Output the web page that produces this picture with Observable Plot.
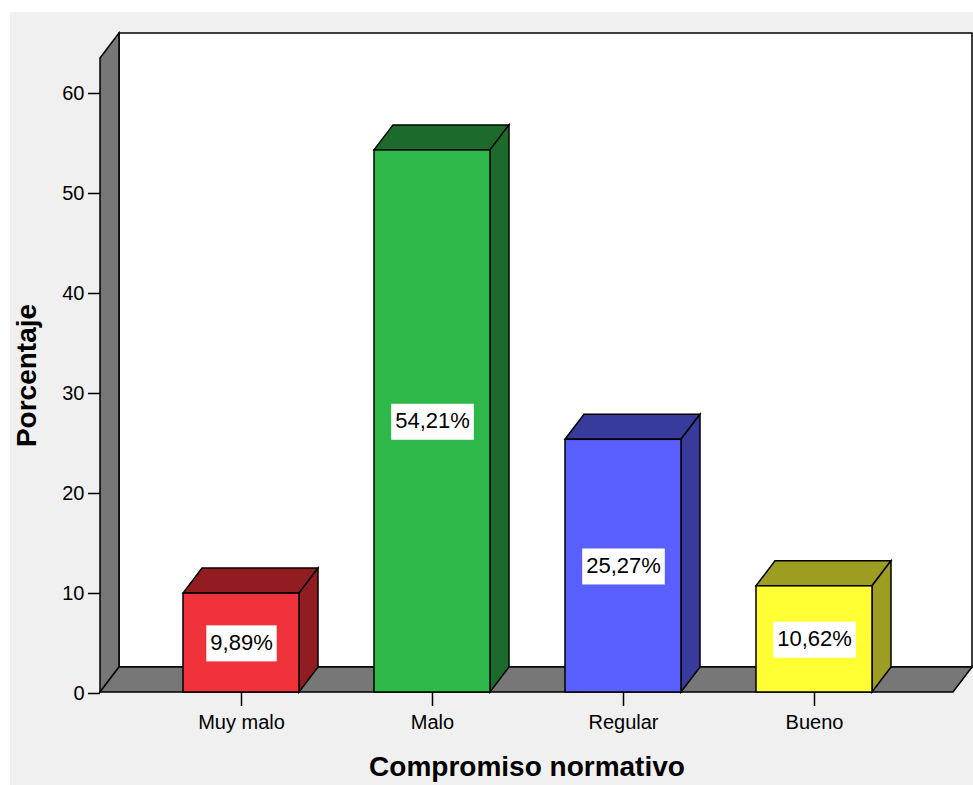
<!DOCTYPE html>
<html>
<head>
<meta charset="utf-8">
<script src="https://cdn.jsdelivr.net/npm/d3@7"></script>
<script src="https://cdn.jsdelivr.net/npm/@observablehq/plot@0.6"></script>
<style>
  html, body { margin: 0; padding: 0; background: #ffffff; }
  #chart { position: relative; width: 973px; height: 785px; overflow: hidden; }
  #panel { position: absolute; left: 10px; top: 12px; right: 0; bottom: 0; background: #f0f0f0; }
  #chart svg { position: absolute; left: 0; top: 0; }
</style>
</head>
<body>
<div id="chart"><div id="panel"></div></div>
<script>
// Compromiso normativo: distribución porcentual por nivel
const categories = ["Muy malo", "Malo", "Regular", "Bueno"];
const percentages = [9.89, 54.21, 25.27, 10.62];
const faceColors = ["#f0333a", "#2fb84a", "#5a5fff", "#ffff33"];
const shadeColors = ["#911d22", "#1c6b2c", "#383b9b", "#9d9d22"];
const yTicks = [0, 10, 20, 30, 40, 50, 60];
const xTitle = "Compromiso normativo";
const yTitle = "Porcentaje";
const yMax = 63.4;

const pct = (v) => d3.format(".2f")(v).replace(".", ",") + "%";

const rows = categories.map((c, i) => ({
  categoria: c,
  porcentaje: percentages[i],
  cara: faceColors[i],
  sombra: shadeColors[i],
  etiqueta: pct(percentages[i])
}));

// pixel offset used for the pseudo-3D depth
const depthX = 19, depthY = -25;
const line = { stroke: "#000", width: 1.5 };

// back wall, left wall and floor of the 3D box
function walls(index, scales, values, dims) {
  const y = scales.y;
  const left = dims.marginLeft, right = dims.width - dims.marginRight;
  const base = y(0), top = y(yMax);
  const g = d3.create("svg:g")
    .attr("stroke", line.stroke).attr("stroke-width", line.width).attr("stroke-linejoin", "miter");
  g.append("path").attr("fill", "#ffffff")
    .attr("d", `M${left + depthX},${base + depthY}V${top + depthY}H${right + depthX}V${base + depthY}Z`);
  g.append("path").attr("fill", "#777777")
    .attr("d", `M${left},${top}L${left + depthX},${top + depthY}V${base + depthY}L${left},${base}Z`);
  g.append("path").attr("fill", "#777777")
    .attr("d", `M${left},${base}L${left + depthX},${base + depthY}H${right + depthX}L${right},${base}Z`);
  return g.node();
}

// top and side faces of each bar
function barSides(index, scales) {
  const {x, y} = scales;
  const bw = x.bandwidth();
  const g = d3.create("svg:g")
    .attr("stroke", line.stroke).attr("stroke-width", line.width).attr("stroke-linejoin", "miter");
  for (const r of rows) {
    const x0 = x(r.categoria), x1 = x0 + bw, yt = y(r.porcentaje), yb = y(0);
    g.append("path").attr("fill", r.sombra)
      .attr("d", `M${x0},${yt}L${x0 + depthX},${yt + depthY}H${x1 + depthX}L${x1},${yt}Z`);
    g.append("path").attr("fill", r.sombra)
      .attr("d", `M${x1},${yt}L${x1 + depthX},${yt + depthY}V${yb + depthY}L${x1},${yb}Z`);
  }
  return g.node();
}

const chart = Plot.plot({
  width: 973,
  height: 785,
  marginLeft: 100,
  marginRight: 20,
  marginTop: 58,
  marginBottom: 93,
  style: { background: "transparent", fontFamily: "'Liberation Sans', Arial, sans-serif", fontSize: "20px", color: "#000" },
  x: { domain: categories, range: [106, 949], padding: 0.395 },
  y: { domain: [0, yMax] },
  color: { type: "identity" },
  marks: [
    walls,
    barSides,
    Plot.barY(rows, { x: "categoria", y: "porcentaje", fill: "cara", stroke: "#000", strokeWidth: 1.5, inset: 0 }),
    Plot.text(rows, {
      x: "categoria", y: (d) => d.porcentaje / 2, text: "etiqueta",
      fontSize: 22, fill: "#000"
    }),
    Plot.axisY({ ticks: yTicks, tickSize: 12, tickPadding: 4, tickFormat: (d) => String(d), label: null, strokeWidth: 1.5, dy: 1 }),
    Plot.axisX({ tickSize: 14, tickPadding: 8, label: null, strokeWidth: 1.5 }),
    Plot.text([xTitle], { text: (d) => d, frameAnchor: "bottom", lineAnchor: "bottom", dy: 83, fontSize: 28, fontWeight: "bold", fill: "#000" }),
    Plot.text([yTitle], { text: (d) => d, frameAnchor: "left", textAnchor: "middle", lineAnchor: "bottom", rotate: -90, dx: -65, fontSize: 28, fontWeight: "bold", fill: "#000" })
  ]
});

document.getElementById("chart").appendChild(chart);

// white boxes behind the value labels
const labelSet = new Set(rows.map((r) => r.etiqueta));
Array.from(chart.querySelectorAll("text"))
  .filter((t) => labelSet.has(t.textContent))
  .forEach((t) => {
    const b = t.getBBox();
    const ay = t.hasAttribute("y") ? parseFloat(t.getAttribute("y")) : 0;
    const r = document.createElementNS("http://www.w3.org/2000/svg", "rect");
    r.setAttribute("x", b.x - 4);
    r.setAttribute("width", b.width + 8);
    r.setAttribute("y", ay - 18);
    r.setAttribute("height", 36);
    r.setAttribute("fill", "#ffffff");
    r.setAttribute("stroke", "none");
    const tr = t.getAttribute("transform");
    if (tr) r.setAttribute("transform", tr);
    t.parentNode.insertBefore(r, t);
  });
</script>
</body>
</html>
